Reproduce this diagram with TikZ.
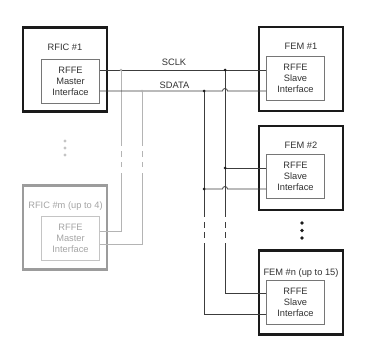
\documentclass[tikz,border=0pt]{standalone}
\usepackage{fontspec}
\setmainfont{Liberation Sans}
\usepackage{tikz}
\usetikzlibrary{positioning,calc}
\definecolor{ink}      {HTML}{1A1A1A}
\definecolor{wirec}    {HTML}{3C3C3C}
\definecolor{framec}   {HTML}{767676}
\definecolor{ghost}    {HTML}{9C9C9C}
\definecolor{ghostin}  {HTML}{C4C4C4}
\definecolor{ghosttext}{HTML}{A4A4A4}
\definecolor{ghostline}{HTML}{B4B4B4}
\tikzset{
  every node/.style={font=\fontsize{9.3}{11}\selectfont, text=ink!90},
  % --- boxes
  chip/.style     = {draw=ink, line width=2.4pt, minimum width=84pt, minimum height=84pt,
                     inner sep=0pt},
  port/.style     = {draw=framec, line width=0.8pt, minimum width=58pt, minimum height=44pt,
                     align=center, inner sep=0pt},
  chipghost/.style= {chip, draw=ghost},
  portghost/.style= {port, draw=ghostin, text=ghosttext},
  lbl/.style      = {anchor=base},
  lblghost/.style = {lbl, text=ghosttext},
  % --- wires
  wire/.style     = {draw=wirec, line width=0.8pt},
  gwire/.style    = {draw=ghostline, line width=0.8pt},
  brk/.style      = {wire, dash pattern=on 0pt off 5pt on 6pt off 4pt on 6pt off 5pt},
  gbrk/.style     = {gwire, dash pattern=on 0pt off 6pt on 5pt off 5pt on 6pt off 5pt},
  jn/.style       = {circle, fill=ink, inner sep=0pt, minimum size=3pt},
  gjn/.style      = {circle, fill=ghostline, inner sep=0pt, minimum size=2.6pt},
  vdot/.style     = {circle, fill=ink, inner sep=0pt, minimum size=3.6pt},
  gvdot/.style    = {circle, fill=ghostin, inner sep=0pt, minimum size=3.4pt},
}

\begin{document}
\begin{tikzpicture}[x=1pt,y=-1pt]
  \useasboundingbox (0,0) rectangle (365,356);

  % RFIC #1
  \node[chip] (rfic1) at (65,69.5) {};
  \node[lbl] (rfic1lbl) at (65,50.5) {RFIC \#1};
  \node[port] (m1) at (70.5,81) {RFFE\\Master\\Interface};

  % RFIC #m
  \node[chipghost] (rficm) at (65,227.5) {};
  \node[lblghost] (rficmlbl) at (65.5,208.5) {RFIC \#m (up to 4)};
  \node[portghost] (mm) at (70.5,238.5) {RFFE\\Master\\Interface};
  \node[gvdot] (gv1) at (65,141) {};
  \node[gvdot] (gv2) at (65,148) {};
  \node[gvdot] (gv3) at (65,155) {};

  % FEM #1, #2, #n
  \node[chip] (fem1) at (301,69) {};
  \node[lbl] (fem1lbl) at (301,49.5) {FEM \#1};
  \node[port] (s1) at (295.5,78) {RFFE\\Slave\\Interface};

  \node[chip] (fem2) at (301,168) {};
  \node[lbl] (fem2lbl) at (301,148.5) {FEM \#2};
  \node[port] (s2) at (295.5,176) {RFFE\\Slave\\Interface};

  \node[chip] (femn) at (301,292.5) {};
  \node[lbl] (femnlbl) at (301,275.5) {FEM \#n (up to 15)};
  \node[port] (sn) at (295.5,302) {RFFE\\Slave\\Interface};

  \node[vdot] (fv1) at (302,223) {};
  \node[vdot] (fv2) at (302,230.5) {};
  \node[vdot] (fv3) at (302,238) {};

  % bus
  \coordinate (ck1) at (225,70);   \coordinate (sd1) at (204,91);
  \coordinate (ck2) at (225,168);  \coordinate (sd2) at (204,189);
  \coordinate (ckA) at (225,217);  \coordinate (ckB) at (225,243);
  \coordinate (sdA) at (204,217);  \coordinate (sdB) at (204,243);
  \coordinate (ckn) at (225,293);  \coordinate (sdn) at (204,314);
  \coordinate (gck) at (121,70);   \coordinate (gsd) at (142,91);
  \coordinate (gckA) at (121,146); \coordinate (gckB) at (121,173);
  \coordinate (gsdA) at (142,146); \coordinate (gsdB) at (142,173);
  \coordinate (gckm) at (121,231); \coordinate (gsdm) at (142,244);

  \node[lbl] (sclk) at (174,66) {SCLK};
  \node[lbl] (sdata) at (174.5,88.5) {SDATA};

  % master #m branches
  \draw[gwire] (mm.east |- gckm) -- (gckm) -- (gckB);
  \draw[gbrk] (gckB) -- (gckA);
  \draw[gwire] (gckA) -- (gck);
  \draw[gwire] (mm.east |- gsdm) -- (gsdm) -- (gsdB);
  \draw[gbrk] (gsdB) -- (gsdA);
  \draw[gwire] (gsdA) -- (gsd);

  % main lines
  \draw[wire] (m1.east |- ck1) -- (s1.west |- ck1);
  \draw[wire] (m1.east |- sd1) -- ($(ck1 |- sd1)+(-2.5,0)$) arc (180:0:2.5pt)
              -- (s1.west |- sd1);

  % slave columns
  \draw[wire] (ck1) -- (ckA);
  \draw[brk] (ckA) -- (ckB);
  \draw[wire] (ckB) -- (ckn) -- (sn.west |- ckn);
  \draw[wire] (sd1) -- (sdA);
  \draw[brk] (sdA) -- (sdB);
  \draw[wire] (sdB) -- (sdn) -- (sn.west |- sdn);
  \draw[wire] (ck2) -- (s2.west |- ck2);
  \draw[wire] (sd2) -- ($(ck2 |- sd2)+(-2.5,0)$) arc (180:0:2.5pt) -- (s2.west |- sd2);

  % junctions
  \node[jn] at (ck1) {};
  \node[jn] at (sd1) {};
  \node[jn] at (ck2) {};
  \node[jn] at (sd2) {};
  \node[gjn] at (gck) {};
  \node[gjn] at (gsd) {};
\end{tikzpicture}
\end{document}
